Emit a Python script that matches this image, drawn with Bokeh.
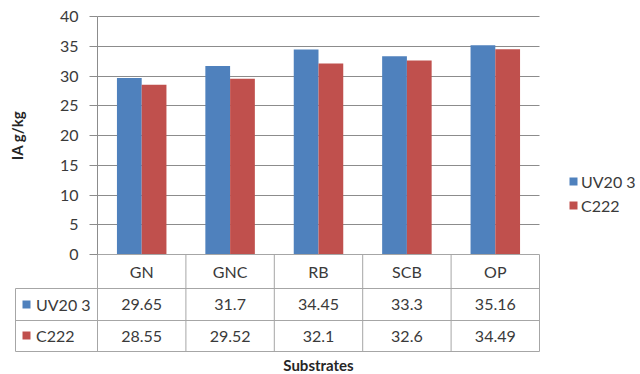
from bokeh.plotting import figure
from bokeh.models import (ColumnDataSource, Range1d, FixedTicker, LinearAxis,
                          Grid, Legend, LegendItem)
from bokeh.core.properties import value
from bokeh.transform import dodge
from bokeh.embed import file_html
from bokeh.resources import INLINE

# ---- data -------------------------------------------------------------
substrates = ["GN", "GNC", "RB", "SCB", "OP"]
series_names = ["UV20 3", "C222"]
uv20_3 = [29.65, 31.7, 34.45, 33.3, 35.16]
c222 = [28.55, 29.52, 32.1, 32.6, 34.49]
y_ticks = [0, 5, 10, 15, 20, 25, 30, 35, 40]

# ---- styling / layout constants ----------------------------------------
BLUE = "#4F81BD"
RED = "#C0504D"
FONT = "Lato"
TEXT = "#3a3a3a"
TITLE = "#262626"
GRID = "#8c8c8c"
TABLE = "#a6a6a6"

W, H = 640, 374
AXIS_PX = 97                 # screen column of the value axis
RIGHT_PX = 539               # right edge of the plot area / table
ZERO_PX, TOP_PX = 254, 16    # screen rows of the 0 and 40 gridlines
n = len(substrates)
col_px = (RIGHT_PX - AXIS_PX) / n
px_per_unit = (ZERO_PX - TOP_PX) / 40.0

# the frame fills the whole canvas so the table and legends are not clipped
x_start = -AXIS_PX / col_px
x_end = (W - AXIS_PX) / col_px
y_start = -(H - ZERO_PX) / px_per_unit
y_end = 40 + TOP_PX / px_per_unit

# data table under the plot: row edges in pixels below the zero line
row_edges = [-d / px_per_unit for d in (34, 66, 97)]
header_y = row_edges[0] / 2
series_y = [(row_edges[0] + row_edges[1]) / 2, (row_edges[1] + row_edges[2]) / 2]
key_left = -(AXIS_PX - 15) / col_px      # left edge of the legend-key column

p = figure(width=W, height=H,
           x_range=Range1d(x_start, x_end), y_range=Range1d(y_start, y_end),
           x_axis_location=None, y_axis_location=None,
           output_backend="svg", toolbar_location=None,
           min_border_left=0, min_border_right=0,
           min_border_top=0, min_border_bottom=0)
p.outline_line_color = None
p.background_fill_color = "white"
p.grid.visible = False

# value axis, pinned at the left edge of the category area
yax = LinearAxis(fixed_location=0, ticker=FixedTicker(ticks=y_ticks), bounds=(0, 40))
yax.axis_line_color = GRID
yax.major_tick_line_color = GRID
yax.major_tick_out = 8
yax.major_tick_in = 0
yax.minor_tick_line_color = None
yax.major_label_standoff = 11
yax.major_label_text_font = FONT
yax.major_label_text_font_size = "16px"
yax.major_label_text_color = TEXT
yax.axis_label = "IA g/kg"
yax.axis_label_text_font = FONT
yax.axis_label_text_font_size = "15px"
yax.axis_label_text_font_style = "bold"
yax.axis_label_text_color = TITLE
yax.axis_label_standoff = 31
p.add_layout(yax, "left")

ygrid = Grid(dimension=1, ticker=FixedTicker(ticks=y_ticks[1:]),
             cross_bounds=(0, n), grid_line_color=GRID)
p.add_layout(ygrid)

# category axis: only its title, under the table
xax = LinearAxis(fixed_location=row_edges[-1], ticker=FixedTicker(ticks=[]),
                 bounds=(0, n))
xax.axis_line_color = None
xax.major_tick_line_color = None
xax.minor_tick_line_color = None
xax.axis_label = "Substrates"
xax.axis_label_text_font = FONT
xax.axis_label_text_font_size = "15px"
xax.axis_label_text_font_style = "bold"
xax.axis_label_text_color = TITLE
xax.axis_label_standoff = 4
p.add_layout(xax, "below")

# bars
src = ColumnDataSource(dict(pos=[i + 0.5 for i in range(n)], substrate=substrates,
                            uv=uv20_3, c=c222))
bars_uv = p.vbar(x=dodge("pos", -0.14), top="uv", width=0.28, source=src,
                 fill_color=BLUE, line_color=None)
bars_c = p.vbar(x=dodge("pos", 0.14), top="c", width=0.28, source=src,
                fill_color=RED, line_color=None)

# data table grid lines
x0, y0, x1, y1 = [0], [0], [n], [0]
for r in row_edges:
    x0.append(key_left); y0.append(r); x1.append(n); y1.append(r)
x0.append(key_left); y0.append(row_edges[0]); x1.append(key_left); y1.append(row_edges[-1])
for i in range(n + 1):
    x0.append(i); y0.append(0); x1.append(i); y1.append(row_edges[-1])
p.segment(x0=x0, y0=y0, x1=x1, y1=y1, line_color=TABLE, line_width=1)

# data table texts
tbl = ColumnDataSource(dict(
    pos=[i + 0.5 for i in range(n)],
    substrate=substrates,
    uv_txt=[str(v) for v in uv20_3],
    c_txt=[str(v) for v in c222],
    hy=[header_y] * n,
    uy=[series_y[0]] * n,
    cy=[series_y[1]] * n,
))
for ycol, tcol in (("hy", "substrate"), ("uy", "uv_txt"), ("cy", "c_txt")):
    p.text(x="pos", y=ycol, text=tcol, source=tbl,
           text_align="center", text_baseline="middle",
           text_font=value(FONT), text_font_size="16px", text_color=TEXT)

legend_style = dict(border_line_color=None, background_fill_alpha=0,
                    padding=0, margin=0, glyph_width=10, glyph_height=10,
                    label_height=20, label_text_font=FONT,
                    label_text_font_size="16px", label_text_color=TEXT)

# legend keys in the table's first column
key_legend = Legend(items=[LegendItem(label=series_names[0], renderers=[bars_uv]),
                           LegendItem(label=series_names[1], renderers=[bars_c])],
                    location=(21, 29), spacing=11, label_standoff=5,
                    **legend_style)
p.add_layout(key_legend)

# legend to the right of the plot
side_legend = Legend(items=[LegendItem(label=series_names[0], renderers=[bars_uv]),
                            LegendItem(label=series_names[1], renderers=[bars_c])],
                     location=(568, 159), spacing=4, label_standoff=3,
                     **legend_style)
p.add_layout(side_legend)

open("out.html", "w").write(file_html(p, INLINE))
